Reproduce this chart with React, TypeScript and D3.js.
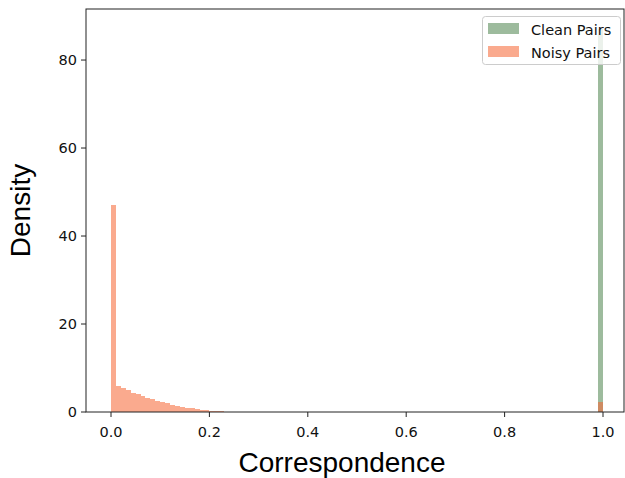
import React from "react";
import * as d3 from "d3";

const BIN_WIDTH = 0.01;
const noisyBinIndex = [0, 1, 2, 3, 4, 5, 6, 7, 8, 9, 10, 11, 12, 13, 14, 15, 16, 17, 18, 19, 20, 21, 22, 23, 24, 25, 26, 27, 99];
const noisyDensity = [47, 5.9, 5.4, 4.9, 4.4, 4.0, 3.6, 3.2, 2.9, 2.6, 2.3, 2.0, 1.7, 1.45, 1.2, 1.0, 0.8, 0.62, 0.48, 0.36, 0.27, 0.2, 0.14, 0.1, 0.07, 0.05, 0.03, 0.02, 2.3];
const cleanBinIndex = [99];
const cleanDensity = [87];
const xTicks = [0, 0.2, 0.4, 0.6, 0.8, 1.0];
const yTicks = [0, 20, 40, 60, 80];
const seriesNames = ["Clean Pairs", "Noisy Pairs"];

const W = 625;
const H = 478;
const L = 86, R = 624, T = 9, B = 412;

export default function App() {
  const x = d3.scaleLinear().domain([0, 1]).range([111, 603]);
  const y = d3.scaleLinear().domain([0, 91.6]).range([B, T]);
  const tickFont = "DejaVu Sans, sans-serif";
  const labelFont = "Liberation Sans, Arial, sans-serif";
  const cleanFill = "rgb(60,120,60)";
  const noisyFill = "rgb(245,100,50)";
  return (
    <svg width={W} height={H} style={{ position: "absolute", left: 0, top: 0, background: "#fff" }}>
      <rect x={0} y={0} width={W} height={H} fill="#fff" />
      <g shapeRendering="crispEdges">
        {cleanBinIndex.map((b, i) => (
          <rect key={"c" + i} x={x(b * BIN_WIDTH)} y={y(cleanDensity[i])}
            width={x((b + 1) * BIN_WIDTH) - x(b * BIN_WIDTH)} height={B - y(cleanDensity[i])}
            fill={cleanFill} fillOpacity={0.5} />
        ))}
        {noisyBinIndex.map((b, i) => (
          <rect key={"n" + i} x={x(b * BIN_WIDTH)} y={y(noisyDensity[i])}
            width={x((b + 1) * BIN_WIDTH) - x(b * BIN_WIDTH)} height={B - y(noisyDensity[i])}
            fill={noisyFill} fillOpacity={0.55} />
        ))}
      </g>
      <rect x={L} y={T} width={R - L} height={B - T} fill="none" stroke="#222" strokeWidth={1} />
      {xTicks.map((t) => (
        <g key={"xt" + t}>
          <line x1={x(t)} x2={x(t)} y1={B} y2={B + 5} stroke="#222" strokeWidth={1} />
          <text x={x(t)} y={437} textAnchor="middle" fontFamily={tickFont} fontSize={14.5} fill="#111">{t.toFixed(1)}</text>
        </g>
      ))}
      {yTicks.map((t) => (
        <g key={"yt" + t}>
          <line x1={L - 5} x2={L} y1={y(t)} y2={y(t)} stroke="#222" strokeWidth={1} />
          <text x={L - 9} y={y(t) + 5} textAnchor="end" fontFamily={tickFont} fontSize={14.5} fill="#111">{t}</text>
        </g>
      ))}
      <text x={(L + R) / 2 - 13} y={472} textAnchor="middle" fontFamily={labelFont} fontSize={28} fill="#000">Correspondence</text>
      <text transform={`translate(30, ${(T + B) / 2}) rotate(-90)`} textAnchor="middle" fontFamily={labelFont} fontSize={28} fill="#000">Density</text>
      <g>
        <rect x={482.5} y={16.5} width={138} height={48} rx={3} fill="#fff" fillOpacity={0.8} stroke="#ccc" strokeWidth={1} />
        <rect x={488} y={23} width={31} height={11} fill={cleanFill} fillOpacity={0.5} />
        <rect x={488} y={46} width={31} height={11} fill={noisyFill} fillOpacity={0.55} />
        <text x={531} y={35} fontFamily={tickFont} fontSize={14.5} fill="#111">{seriesNames[0]}</text>
        <text x={531} y={58} fontFamily={tickFont} fontSize={14.5} fill="#111">{seriesNames[1]}</text>
      </g>
    </svg>
  );
}
